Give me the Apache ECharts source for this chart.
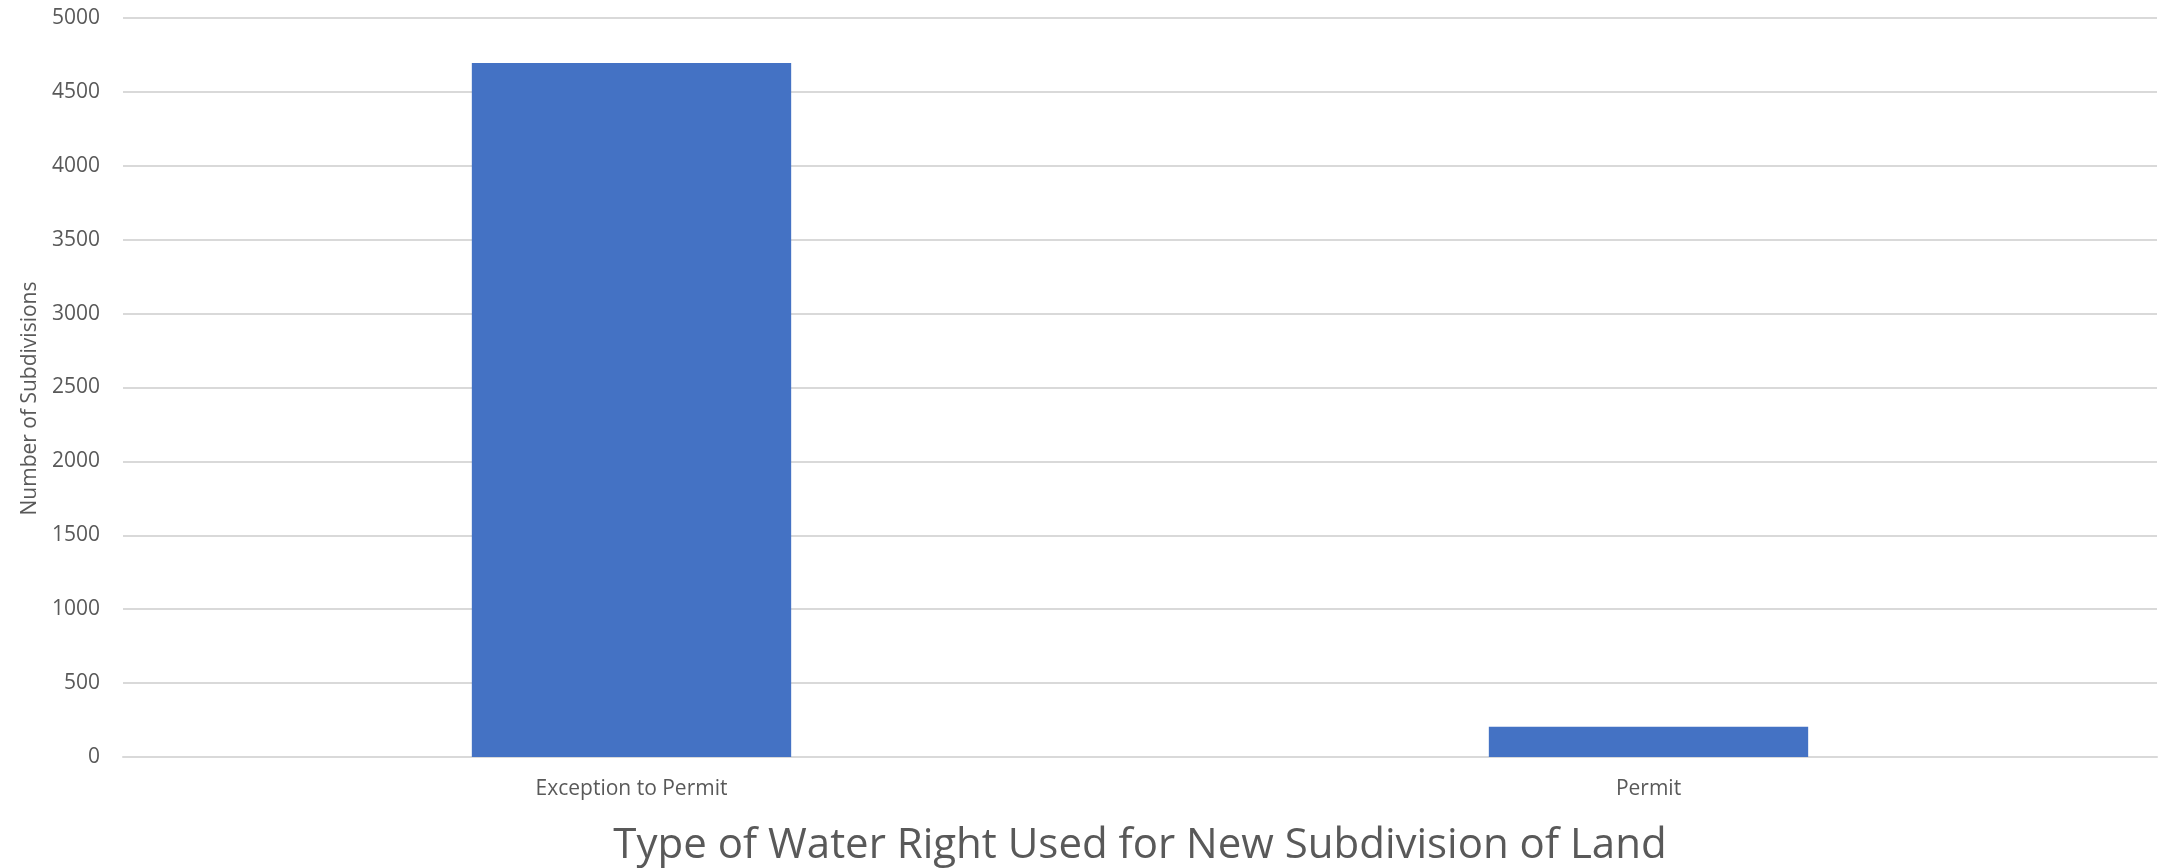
<!DOCTYPE html>
<html>
<head>
<meta charset="utf-8">
<script src="https://cdn.jsdelivr.net/npm/echarts@6/dist/echarts.min.js"></script>
<style>
  html, body { margin: 0; padding: 0; background: #ffffff; }
  #chart { width: 2168px; height: 868px; }
</style>
</head>
<body>
<div id="chart"></div>
<script>
  // categories and values
  var categories = ['Exception to Permit', 'Permit'];
  var subdivisions = [4695, 205];
  var xTitle = 'Type of Water Right Used for New Subdivision of Land';
  var yTitle = 'Number of Subdivisions';

  var myChart = echarts.init(document.getElementById('chart'));
  var option = {
    animation: false,
    textStyle: { fontFamily: 'Open Sans' },
    grid: { left: 123, right: 11, top: 18, bottom: 111, outerBoundsMode: 'none' },
    xAxis: {
      type: 'category',
      data: categories,
      name: xTitle,
      nameLocation: 'middle',
      nameGap: 68,
      nameTextStyle: { fontSize: 42, color: '#595959', fontFamily: 'Open Sans' },
      axisLine: { lineStyle: { color: '#d9d9d9', width: 2 } },
      axisTick: { show: false },
      axisLabel: { fontSize: 21, color: '#595959', margin: 22 }
    },
    yAxis: {
      type: 'value',
      min: 0,
      max: 5000,
      interval: 500,
      name: yTitle,
      nameLocation: 'middle',
      nameGap: 82,
      nameTextStyle: { fontSize: 21, color: '#595959', padding: [0, 22, 0, 0] },
      axisLine: { show: false },
      axisTick: { show: false },
      axisLabel: {
        fontSize: 21,
        color: '#595959',
        margin: 23,
        formatter: function (v) { return String(v); }
      },
      splitLine: { lineStyle: { color: '#d9d9d9', width: 2 } }
    },
    series: [{
      type: 'bar',
      data: subdivisions,
      barWidth: '31.4%',
      itemStyle: { color: '#4472c4' }
    }]
  };
  myChart.setOption(option);
</script>
</body>
</html>
